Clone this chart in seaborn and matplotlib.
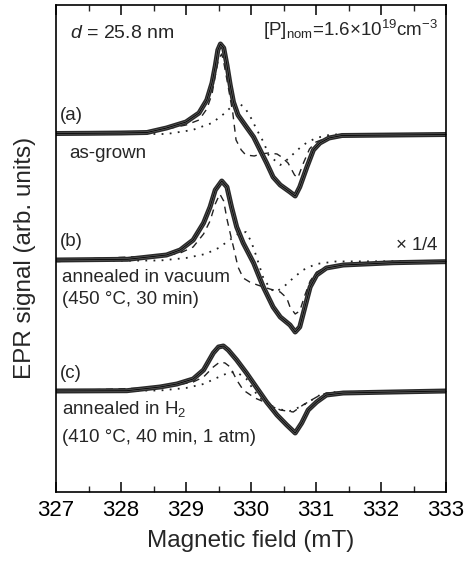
import matplotlib
matplotlib.use("Agg")
import matplotlib.pyplot as plt
import seaborn as sns
import pandas as pd
from matplotlib.ticker import MultipleLocator

# Values (x in mT, signal in arb. units relative to each baseline)
# (a) as-grown
field_a = [327.0, 327.5, 328.0, 328.4, 328.7, 329.0, 329.2, 329.32, 329.4, 329.45, 329.49, 329.53,
           329.58, 329.63, 329.68, 329.73, 329.8, 329.93, 330.04, 330.14, 330.24, 330.34, 330.45,
           330.6, 330.68, 330.75, 330.86, 330.96, 331.06, 331.2, 331.4, 332.2, 333.0]
total_a = [0.5, 0.7, 1.0, 1.5, 6, 12, 21, 34, 51, 68, 84, 90,
           86, 69, 49, 32, 19, 7, -3, -16, -29, -43, -51,
           -58, -62, -53, -33, -16, -9, -4, -1.5, -1, -0.5]
dash_x_a = [327.0, 328.4, 328.7, 329.0, 329.2, 329.32, 329.4, 329.45, 329.5, 329.55, 329.58, 329.65,
            329.72, 329.77, 329.85, 329.92, 330.05, 330.15, 330.27, 330.4, 330.47, 330.57, 330.67,
            330.72, 330.8, 330.9, 331.0, 331.2, 331.5, 332.2, 333.0]
dash_a = [0.5, 1.5, 5, 9, 14, 25, 40, 58, 75, 80, 72, 47,
          21, -6, -16, -21, -22, -20, -19, -20, -23, -29, -41,
          -44, -30, -15, -8, -3, -1.5, -1, -0.5]
dot_x_a = [327.0, 328.7, 329.1, 329.4, 329.6, 329.77, 329.9, 330.0, 330.1, 330.2, 330.27, 330.45,
           330.55, 330.65, 330.75, 330.85, 331.0, 331.2, 331.4, 333.0]
dot_a = [0, 0, 4, 11, 21, 32, 27, 16, 3, -9, -21, -31,
         -26, -20, -14, -9, -4, -1, 0, 0]

# (b) annealed in vacuum (x 1/4)
field_b = [327.0, 328.1, 328.7, 328.91, 329.11, 329.27, 329.37, 329.45, 329.55, 329.63, 329.7, 329.78,
           329.88, 330.04, 330.19, 330.34, 330.45, 330.6, 330.68, 330.75, 330.83, 330.91, 331.01,
           331.16, 331.42, 332.19, 332.96, 333.0]
total_b = [1, 1.7, 6, 11, 21, 38, 54, 71, 80, 74, 54, 34,
           18, -2, -26, -46, -56, -64, -71, -66, -46, -26, -14,
           -7, -4, -1.7, -0.7, -0.7]
dash_x_b = [327.0, 328.7, 328.91, 329.11, 329.27, 329.37, 329.45, 329.52, 329.58, 329.63, 329.7, 329.73,
            329.8, 329.88, 329.98, 330.1, 330.29, 330.45, 330.55, 330.6, 330.68, 330.75, 330.83,
            330.91, 331.01, 331.16, 331.42, 332.2, 333.0]
dash_b = [1, 5.5, 8, 14, 27, 40, 57, 67, 60, 42, 22, 14,
          -6, -17, -21, -24, -28, -31, -37, -46, -53, -50, -34,
          -20, -11, -6, -3.5, -1.7, -0.7]
dot_x_b = [327.0, 328.6, 329.0, 329.3, 329.5, 329.65, 329.8, 329.92, 330.0, 330.06, 330.19, 330.3,
           330.38, 330.5, 330.65, 330.8, 331.0, 331.3, 333.0]
dot_b = [0, 0.5, 3, 7, 13, 20, 27, 29, 20, 9, -17, -28,
         -31, -26, -17, -9, -3, -0.5, 0]

# (c) annealed in H2
field_c = [327.0, 328.09, 328.6, 328.86, 329.11, 329.27, 329.42, 329.5, 329.575, 329.65, 329.78, 329.93,
           330.09, 330.24, 330.4, 330.55, 330.68, 330.78, 330.88, 331.01, 331.16, 331.42, 332.19, 333.0]
total_c = [0, 0.3, 4, 7, 12, 21, 38, 44, 45, 41, 31, 18,
           3, -11, -24, -34, -42, -32, -19, -11, -4, -2, -1, 0]
dash_x_c = [327.0, 328.6, 328.86, 329.11, 329.27, 329.42, 329.52, 329.6, 329.68, 329.78, 329.88, 330.06,
            330.24, 330.45, 330.65, 330.8, 331.01, 331.16, 331.42, 333.0]
dash_c = [0, 3.5, 6, 9, 14, 24, 29, 28, 24, 11, 1, -7,
          -12, -19, -21, -14, -6, -2, -1, 0]
dot_x_c = [327.0, 328.6, 329.0, 329.27, 329.47, 329.68, 329.8, 329.93, 330.05, 330.14, 330.24, 330.4,
           330.6, 330.75, 330.86, 331.06, 331.3, 333.0]
dot_c = [0, 0.5, 3, 7, 13, 19, 18, 12, 0, -7, -13, -18,
         -20, -16, -12, -4, -1, 0]

baselines = {"a": 358, "b": 231, "c": 101}

sns.set_theme(style="ticks")
plt.rcParams["font.family"] = ["Liberation Sans", "DejaVu Sans"]
plt.rcParams["mathtext.fontset"] = "custom"
plt.rcParams["mathtext.rm"] = "Liberation Sans"
plt.rcParams["mathtext.it"] = "Liberation Sans:italic"

fig = plt.figure(figsize=(4.71, 5.63), dpi=100)
ax = fig.add_axes([56 / 471, 71 / 563, 390 / 471, 487 / 563])

traces = [
    ("a", field_a, total_a, dash_x_a, dash_a, dot_x_a, dot_a),
    ("b", field_b, total_b, dash_x_b, dash_b, dot_x_b, dot_b),
    ("c", field_c, total_c, dash_x_c, dash_c, dot_x_c, dot_c),
]

for key, fx, fy, dx, dy, ox, oy in traces:
    off = baselines[key]
    d_total = pd.DataFrame({"B": fx, "S": [v + off for v in fy]})
    d_dash = pd.DataFrame({"B": dx, "S": [v + off for v in dy]})
    d_dot = pd.DataFrame({"B": ox, "S": [v + off for v in oy]})
    sns.lineplot(data=d_dot, x="B", y="S", ax=ax, sort=False, estimator=None,
                 color="#222222", lw=1.3, linestyle=(0, (1, 3.5)))
    sns.lineplot(data=d_dash, x="B", y="S", ax=ax, sort=False, estimator=None,
                 color="#222222", lw=1.0, linestyle=(0, (5, 4)))
    # measured points (dense open circles) + fit
    sns.lineplot(data=d_total, x="B", y="S", ax=ax, sort=False, estimator=None,
                 color="#2a2a2a", lw=3.6)
    sns.lineplot(data=d_total, x="B", y="S", ax=ax, sort=False, estimator=None,
                 color="#5e5e5e", lw=1.5)
    sns.lineplot(data=d_total, x="B", y="S", ax=ax, sort=False, estimator=None,
                 color="black", lw=0.6)

ax.set_xlim(327, 333)
ax.set_ylim(0, 487)
ax.xaxis.set_major_locator(MultipleLocator(1))
ax.xaxis.set_minor_locator(MultipleLocator(0.5))
ax.set_yticks(list(baselines.values()))
ax.set_yticklabels([])
ax.tick_params(axis="x", which="major", direction="in", length=7, width=1.1,
               top=True, labelsize=16, pad=6, colors="black")
ax.tick_params(axis="x", which="minor", direction="in", length=4, width=1.0, top=True)
ax.tick_params(axis="y", which="major", direction="in", length=3, width=1.0,
               left=True, right=True)
for sp in ax.spines.values():
    sp.set_linewidth(1.2)
    sp.set_color("black")

ax.set_xlabel("Magnetic field (mT)", fontsize=17.5, labelpad=6)
ax.set_ylabel("EPR signal (arb. units)", fontsize=17.5)
ax.yaxis.set_label_coords(-0.05, 0.48)

fs = 13.5
ax.text(327.22, 450, r"$d$ = 25.8 nm", fontsize=14, va="bottom")
ax.text(332.88, 450, r"[P]$_{\mathrm{nom}}$=1.6$\times$10$^{19}$cm$^{-3}$", fontsize=fs,
        va="bottom", ha="right")
ax.text(327.06, 377, "(a)", fontsize=fs, va="center")
ax.text(327.2, 339, "as-grown", fontsize=fs, va="center")
ax.text(327.06, 250, "(b)", fontsize=fs, va="center")
ax.text(332.88, 246, r"$\times$ 1/4", fontsize=fs, va="center", ha="right")
ax.text(327.1, 214, "annealed in vacuum", fontsize=fs, va="center")
ax.text(327.1, 192, "(450 °C, 30 min)", fontsize=fs, va="center")
ax.text(327.06, 119, "(c)", fontsize=fs, va="center")
ax.text(327.1, 83, r"annealed in H$_{2}$", fontsize=fs, va="center")
ax.text(327.1, 54, "(410 °C, 40 min, 1 atm)", fontsize=fs, va="center")

fig.savefig("out.png", dpi=100)
